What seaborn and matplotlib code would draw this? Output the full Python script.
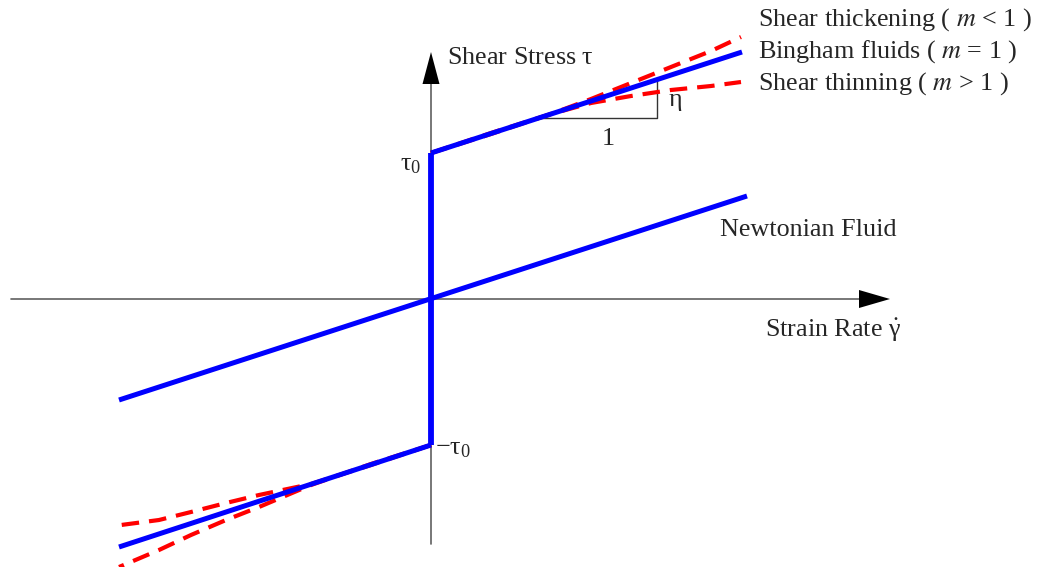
import numpy as np
import pandas as pd
import matplotlib
matplotlib.use("Agg")
import matplotlib.pyplot as plt
import seaborn as sns

# Strain rate (gamma-dot) and shear stress (tau) for each rheology model
newton_rate = [-312, 316]
newton_stress = [-101, 103]

tau0 = 146
yield_rate = [0, 0]
yield_stress = [-tau0, tau0]

bingham_up_rate = [0, 311]
bingham_up_stress = [146, 247]
bingham_lo_rate = [-312, 0]
bingham_lo_stress = [-248, -146]

thick_up_rate = [0, 60, 120, 160, 200, 240, 280, 310]
thick_up_stress = [146, 165, 185, 200, 216, 232, 248, 262]
thin_up_rate = [0, 60, 120, 160, 200, 240, 280, 310]
thin_up_stress = [146, 166, 185, 196, 203, 209, 213, 217]

thick_lo_rate = [0, -60, -120, -172, -205, -240, -272, -312]
thick_lo_stress = [-146, -165, -186, -208, -221, -236, -251, -268]
thin_lo_rate = [0, -60, -120, -172, -205, -240, -272, -310]
thin_lo_stress = [-146, -166, -185, -196, -204, -213, -221, -226]

# slope triangle drawn on the Bingham branch
tri_rate = [107, 226]

legend_labels = ["Shear thickening ( $m$ < 1 )",
                 "Bingham fluids ( $m$ = 1 )",
                 "Shear thinning ( $m$ > 1 )"]

sns.set_theme(style="white")
plt.rcParams["font.family"] = ["Liberation Serif", "DejaVu Serif"]
plt.rcParams["mathtext.fontset"] = "stix"

fig = plt.figure(figsize=(10.42, 5.67), dpi=100)
ax = fig.add_axes([0, 0, 1, 1])
ax.set_xlim(-431, 611)
ax.set_ylim(-268, 299)
ax.axis("off")

AX_COL = "#606060"
BLUE = "#0000ff"
RED = "#ff0000"

# coordinate axes with arrowheads
ax.plot([-420, 430], [0, 0], color=AX_COL, lw=1.2, zorder=1)
ax.plot([0, 0], [-245, 215], color=AX_COL, lw=1.2, zorder=1)
ax.fill([428, 459, 428], [9, 0, -9], color="black", zorder=2, lw=0)
ax.fill([-8.5, 0, 8.5], [215, 247, 215], color="black", zorder=2, lw=0)

def draw(rate, stress, **kw):
    df = pd.DataFrame({"rate": rate, "stress": stress})
    sns.lineplot(data=df, x="rate", y="stress", sort=False, estimator=None,
                 ax=ax, **kw)

dash = (0, (4.2, 2.4))
for r, s in [(thick_up_rate, thick_up_stress), (thin_up_rate, thin_up_stress),
             (thick_lo_rate, thick_lo_stress), (thin_lo_rate, thin_lo_stress)]:
    draw(r, s, color=RED, lw=3.0, linestyle=dash, zorder=3)

for r, s in [(newton_rate, newton_stress), (bingham_up_rate, bingham_up_stress),
             (bingham_lo_rate, bingham_lo_stress)]:
    draw(r, s, color=BLUE, lw=3.6, zorder=4, solid_capstyle="butt")
draw(yield_rate, yield_stress, color=BLUE, lw=4.2, zorder=4, solid_capstyle="butt")

# slope triangle
b_lo = np.interp(tri_rate[0], bingham_up_rate, bingham_up_stress)
b_hi = np.interp(tri_rate[1], bingham_up_rate, bingham_up_stress)
ax.plot([tri_rate[0], tri_rate[1], tri_rate[1]], [b_lo, b_lo, b_hi],
        color="#333333", lw=1.0, zorder=2)

fs = 18.8
ax.text(16, 241, r"Shear Stress $\mathregular{\tau}$", fontsize=fs, ha="left", va="center")
ax.text(-10, 134, r"$\mathregular{\tau_0}$", fontsize=fs, ha="right", va="center")
ax.text(4, -150, r"$\mathregular{-\tau_0}$", fontsize=fs, ha="left", va="center")
ax.text(237, 197, r"$\mathregular{\eta}$", fontsize=fs, ha="left", va="center")
ax.text(177, 160, "1", fontsize=fs, ha="center", va="center")
ax.text(289, 69, "Newtonian Fluid", fontsize=fs, ha="left", va="center")
ax.text(334, -31, r"Strain Rate $\mathregular{\dot{\gamma}}$", fontsize=fs, ha="left", va="center")
for lbl, y in zip(legend_labels, [279, 247, 215]):
    ax.text(327, y, lbl, fontsize=fs, ha="left", va="center")

fig.savefig("out.png", dpi=100)
